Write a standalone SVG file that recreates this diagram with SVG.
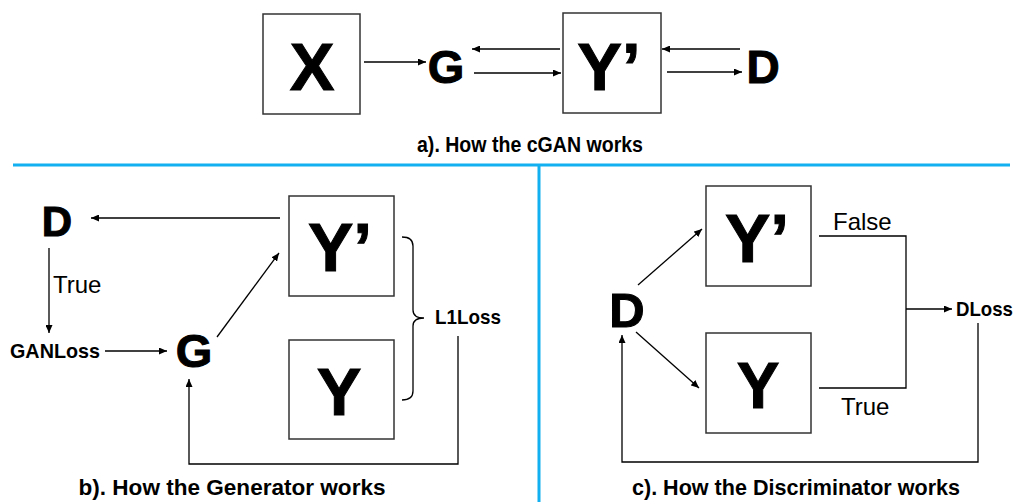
<svg xmlns="http://www.w3.org/2000/svg" width="1022" height="502" viewBox="0 0 1022 502">
<style>
.box{fill:#fff;stroke:#333;stroke-width:1.5}
.big{font-family:"Liberation Sans",Arial,sans-serif;font-weight:bold;fill:#000;text-anchor:middle;stroke:#000;stroke-width:1}
.lbl{font-family:"Liberation Sans",Arial,sans-serif;font-weight:bold;font-size:21px;fill:#000}
.reg{font-family:"Liberation Sans",Arial,sans-serif;font-size:24px;fill:#000}
.cap{font-family:"Liberation Sans",Arial,sans-serif;font-weight:bold;font-size:22px;fill:#000;text-anchor:middle}
.ln{fill:none;stroke:#000;stroke-width:1.3}
.arr{fill:none;stroke:#000;stroke-width:1.3;marker-end:url(#ah)}
.sep{fill:none;stroke:#12B0F0;stroke-width:3}
</style>
<defs>
<marker id="ah" markerUnits="userSpaceOnUse" markerWidth="8" markerHeight="7" refX="8" refY="3.5" orient="auto">
<path d="M0,0 L8,3.5 L0,7 z" fill="#000"/>
</marker>
</defs>
<g id="separators">
<path class="sep" d="M13,165 H1010"/>
<path class="sep" d="M539,165 V502"/>
</g>
<g id="a-X"><rect class="box" x="263" y="14" width="97" height="100"/><text class="big" x="312" y="90" font-size="67">X</text></g>
<g id="a-G"><text class="big" x="446" y="83" font-size="47">G</text></g>
<g id="a-Yp"><rect class="box" x="563" y="13" width="98" height="100"/><text class="big" x="609" y="90" font-size="67">Y’</text></g>
<g id="a-D"><text class="big" x="763" y="83" font-size="46">D</text></g>
<g id="a-caption"><text class="cap" x="530" y="152" textLength="226" lengthAdjust="spacingAndGlyphs">a). How the cGAN works</text></g>

<g id="b-D"><text class="big" x="57" y="236" font-size="42">D</text></g>
<g id="b-Yp"><rect class="box" x="289" y="196" width="105" height="100"/><text class="big" x="340" y="271" font-size="68">Y’</text></g>
<g id="b-Y"><rect class="box" x="289" y="340" width="105" height="99"/><text class="big" x="339" y="415" font-size="67">Y</text></g>
<g id="b-G"><text class="big" x="194" y="367" font-size="47">G</text></g>
<g id="b-GANLoss"><text class="lbl" x="10" y="358" textLength="90" lengthAdjust="spacingAndGlyphs">GANLoss</text></g>
<g id="b-L1Loss"><text class="lbl" x="435" y="324" textLength="66" lengthAdjust="spacingAndGlyphs">L1Loss</text></g>
<g id="b-caption"><text class="cap" x="232" y="495" textLength="307" lengthAdjust="spacingAndGlyphs">b). How the Generator works</text></g>

<g id="c-D"><text class="big" x="627" y="327" font-size="49">D</text></g>
<g id="c-Yp"><rect class="box" x="706" y="186" width="105" height="100"/><text class="big" x="757" y="262" font-size="68">Y’</text></g>
<g id="c-Y"><rect class="box" x="706" y="333" width="105" height="100"/><text class="big" x="758" y="408" font-size="64">Y</text></g>
<g id="c-DLoss"><text class="lbl" x="956" y="316" textLength="57" lengthAdjust="spacingAndGlyphs">DLoss</text></g>
<g id="c-caption"><text class="cap" x="796" y="495" textLength="328" lengthAdjust="spacingAndGlyphs">c). How the Discriminator works</text></g>

<g id="connectors">
<path class="arr" d="M364,62 H426"/>
<path class="arr" d="M560,49 H472"/>
<path class="arr" d="M474,73 H561"/>
<path class="arr" d="M740,49 H662"/>
<path class="arr" d="M667,72 H742"/>

<path class="arr" d="M280,218 H91"/>
<path class="arr" d="M49,248 V333"/>
<text class="reg" x="53" y="293">True</text>
<path class="arr" d="M105,351 H167"/>
<path class="arr" d="M217,337 L279,253"/>
<path class="ln" d="M402,237 Q413,237 413,246 L413,310 Q413,318 424,318 Q413,318 413,326 L413,391 Q413,400 402,400"/>
<path class="arr" d="M458,336 V464 H189 V379"/>

<path class="arr" d="M638,285 L702,229"/>
<path class="arr" d="M636,332 L699,388"/>
<path class="ln" d="M819,236 H906 V388 H819"/>
<text class="reg" x="833" y="230">False</text>
<text class="reg" x="841" y="415">True</text>
<path class="arr" d="M906,309 H952"/>
<path class="arr" d="M978,323 V462 H622 V335"/>
</g>
</svg>
